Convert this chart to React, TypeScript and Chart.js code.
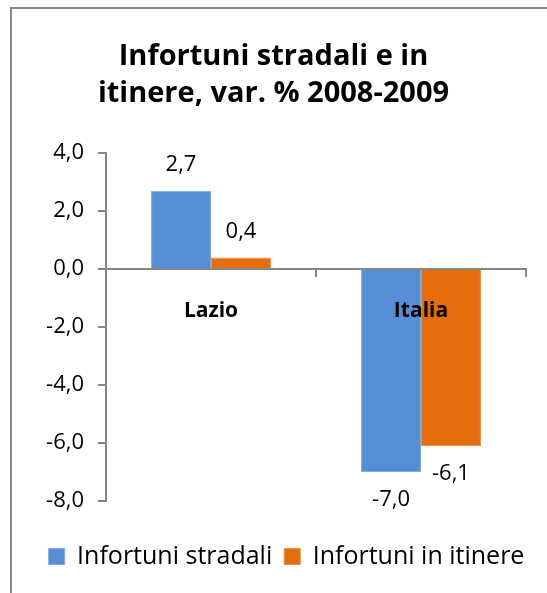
import React, { useEffect, useRef } from "react";
import { Chart, registerables } from "chart.js";

Chart.register(...registerables);

const categories = ["Lazio", "Italia"];
const seriesNames = ["Infortuni stradali", "Infortuni in itinere"];
const stradaliValues = [2.7, -7.0];
const itinereValues = [0.4, -6.1];
const titleLines = ["Infortuni stradali e in", "itinere, var. % 2008-2009"];
const yMin = -8;
const yMax = 4;
const yStep = 2;

const FONT = "'Open Sans'";
const fmt = (v: number) => v.toFixed(1).replace(".", ",");

const valueLabels = {
  id: "valueLabels",
  afterDatasetsDraw(chart: any) {
    const ctx = chart.ctx;
    ctx.save();
    ctx.font = `22px ${FONT}`;
    ctx.fillStyle = "#000";
    ctx.textAlign = "center";
    ctx.textBaseline = "middle";
    chart.data.datasets.forEach((ds: any, i: number) => {
      const meta = chart.getDatasetMeta(i);
      meta.data.forEach((bar: any, j: number) => {
        const v = ds.data[j];
        const y = v >= 0 ? bar.y - 26 : bar.y + 28;
        ctx.fillText(fmt(v), bar.x, y);
      });
    });
    ctx.restore();
  },
};

// the legend in the reference is centred a little to the right of the title
const legendShift = {
  id: "legendShift",
  afterLayout(chart: any) {
    if (chart.legend) {
      chart.legend.left += 13;
      chart.legend.right += 13;
    }
  },
};

export default function App() {
  const ref = useRef<HTMLCanvasElement | null>(null);
  useEffect(() => {
    if (!ref.current) return;
    const chart = new Chart(ref.current, {
      type: "bar",
      data: {
        labels: categories,
        datasets: [
          {
            label: seriesNames[0],
            data: stradaliValues,
            backgroundColor: "#558ED5",
            borderColor: "#7FAAE0",
            borderWidth: 1,
            barPercentage: 1,
            categoryPercentage: 0.571,
          },
          {
            label: seriesNames[1],
            data: itinereValues,
            backgroundColor: "#E46C0A",
            borderColor: "#EC8F45",
            borderWidth: 1,
            barPercentage: 1,
            categoryPercentage: 0.571,
          },
        ],
      },
      options: {
        responsive: false,
        animation: false,
        layout: { padding: { left: 21, right: 21, top: 0, bottom: 14 } },
        plugins: {
          title: {
            display: true,
            text: titleLines,
            color: "#000",
            font: { family: FONT, size: 29, weight: "bold", lineHeight: 37 / 29 },
            padding: { top: 38, bottom: 41 },
          },
          legend: {
            position: "bottom",
            title: {
              display: true,
              text: " ",
              font: { size: 4, lineHeight: 1 },
              padding: { top: 27, bottom: 0 },
            },
            labels: {
              color: "#000",
              font: { family: FONT, size: 25 },
              boxWidth: 16,
              boxHeight: 16,
              padding: 12,
            },
          },
          tooltip: { enabled: false },
        },
        scales: {
          x: {
            type: "category",
            position: { y: 0 } as any,
            offset: true,
            grid: {
              display: true,
              drawOnChartArea: false,
              drawTicks: true,
              tickLength: 7,
              color: "#868686",
              lineWidth: 2,
              offset: true,
              z: 1,
            },
            border: { display: true, color: "#868686", width: 2, z: 1 },
            ticks: {
              color: "#000",
              font: { family: FONT, size: 21, weight: "bold" },
              padding: 22,
              autoSkip: false,
              z: 2,
            },
          },
          y: {
            min: yMin,
            max: yMax,
            afterFit: (s: any) => {
              s.width = 85;
            },
            ticks: {
              stepSize: yStep,
              color: "#000",
              font: { family: FONT, size: 22 },
              padding: 14,
              callback: (v: any) => fmt(Number(v)),
            },
            grid: {
              drawOnChartArea: false,
              drawTicks: true,
              tickLength: 8,
              color: "#868686",
              lineWidth: 2,
            },
            border: { display: true, color: "#868686", width: 2 },
          },
        },
      },
      plugins: [valueLabels, legendShift],
    });
    return () => chart.destroy();
  }, []);

  return (
    <div style={{ position: "fixed", left: 0, top: 0, width: 547, height: 593, background: "#fff" }}>
      <canvas ref={ref} width={547} height={593} style={{ display: "block" }} />
      <div
        style={{
          position: "absolute",
          left: 10,
          top: 7,
          width: 537,
          height: 586,
          boxSizing: "border-box",
          borderLeft: "2px solid #8a8a8a",
          borderTop: "2px solid #8a8a8a",
          pointerEvents: "none",
        }}
      />
    </div>
  );
}
